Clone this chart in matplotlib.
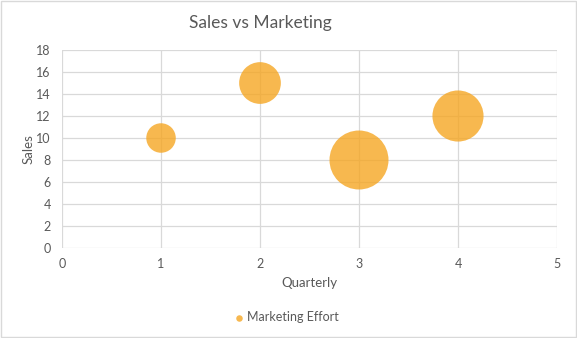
import matplotlib.pyplot as plt
from matplotlib.patches import Rectangle

quarter = [1, 2, 3, 4]
sales = [10, 15, 8, 12]
marketing_effort = [2, 4, 8, 6]

plt.rcParams['font.family'] = ['Lato', 'DejaVu Sans']
grey = '#595959'
grid_c = '#D9D9D9'

fig = plt.figure(figsize=(5.77, 3.38), dpi=100)
ax = fig.add_axes([0.1075, 0.2663, 0.8578, 0.5857])

# bubble area proportional to size, largest bubble ~59 px across
max_d_pt = 59 * 72 / 100.
sizes = [m / max(marketing_effort) * max_d_pt**2 for m in marketing_effort]
ax.scatter(quarter, sales, s=sizes, color='#F5A623', alpha=0.8, linewidths=0,
           zorder=3, clip_on=False, label='Marketing Effort')

ax.set_xlim(0, 5)
ax.set_ylim(0, 18)
ax.set_xticks(range(0, 6))
ax.set_yticks(range(0, 19, 2))
ax.grid(True, color=grid_c, lw=0.9)
ax.set_axisbelow(True)
for s in ax.spines.values():
    s.set_visible(False)
ax.tick_params(length=0, colors=grey, labelsize=9, pad=8)
ax.tick_params(axis='x', pad=7)

ax.set_xlabel('Quarterly', color=grey, fontsize=9.5, labelpad=5)
ax.set_ylabel('Sales', color=grey, fontsize=9.5, labelpad=1)
fig.suptitle('Sales vs Marketing', x=0.452, y=0.955, color=grey, fontsize=12.5)

leg = ax.legend(loc='center', bbox_to_anchor=(0.455, -0.35), frameon=False,
                handlelength=0.6, handletextpad=0.3, fontsize=9)
for t in leg.get_texts():
    t.set_color(grey)
for h in leg.legend_handles:
    h.set_sizes([22])

fig.patches.append(Rectangle((0.001, 0.002), 0.997, 0.995, transform=fig.transFigure,
                             fill=False, edgecolor=grid_c, lw=1))

plt.savefig('out.png', dpi=100)
